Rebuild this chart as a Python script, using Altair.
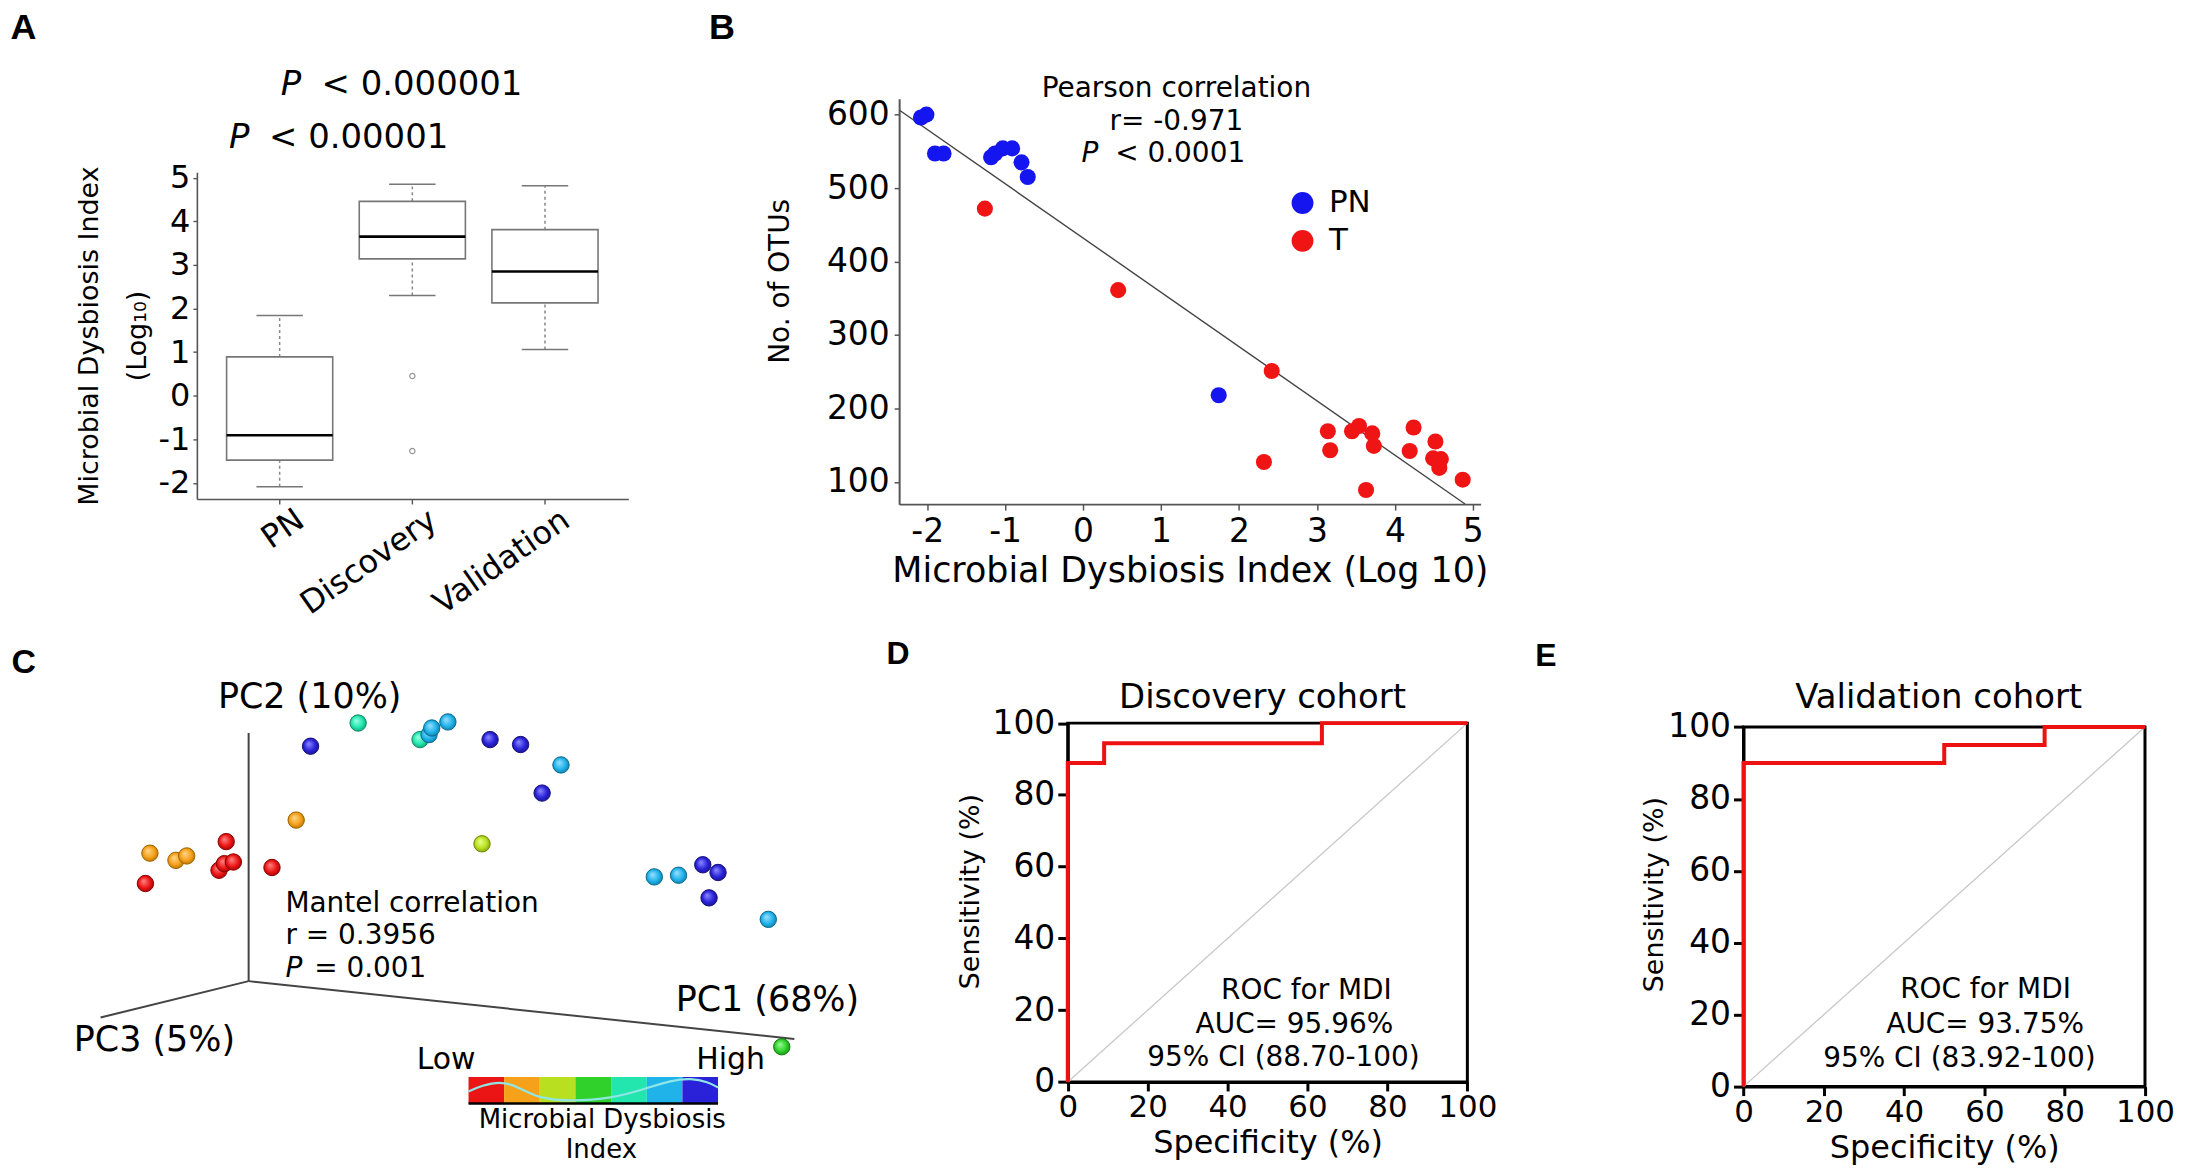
import altair as alt
import pandas as pd

FONT = "DejaVu Sans"
LETTER_FONT = "Liberation Sans Narrow, Liberation Sans"
NEG_EXPR = "datum.value < 0 ? '-' + (-datum.value) : '' + datum.value"
W, H = 2175, 1157   # one drawing surface; every panel gets its own scales mapped to a pixel range

# ---------------- Panel A : box plot ----------------
a_groups = ["PN", "Discovery", "Validation"]
a_pos = [1, 2, 3]
a_low = [-2.09, 2.30, 1.06]
a_q1 = [-1.48, 3.14, 2.13]
a_med = [-0.91, 3.65, 2.85]
a_q3 = [0.89, 4.46, 3.81]
a_high = [1.84, 4.85, 4.82]
a_out_pos = [2, 2]
a_out_val = [0.45, -1.27]
a_yticks = [-2, -1, 0, 1, 2, 3, 4, 5]

# ---------------- Panel B : scatter ----------------
b_pn_mdi = [-2.08, -2.01, -1.90, -1.79, -1.18, -1.13, -1.03, -0.91, -0.79, -0.71, 1.74]
b_pn_otu = [596, 600, 547, 547, 542, 547, 554, 554, 535, 515, 218]
b_t_mdi = [-1.26, 0.45, 2.42, 2.32, 3.14, 3.17, 3.45, 3.54, 3.71, 3.73, 3.63,
           4.24, 4.19, 4.52, 4.49, 4.59, 4.57, 4.87]
b_t_otu = [472, 361, 251, 127, 169, 143, 169, 176, 166, 149, 89,
           174, 142, 155, 132, 131, 119, 103]
b_fit_slope = -73.9
b_fit_intercept = 432.0
b_fit_x = [-2.35, 4.90]
b_xticks = [-2, -1, 0, 1, 2, 3, 4, 5]
b_yticks = [100, 200, 300, 400, 500, 600]

# ---------------- Panel C : PCoA (projected 3-D view) ----------------
c_x = [16.2, 24.4, 25.0, 26.0, 25.2, 30.3,
       16.7, 19.6, 20.8, 33.0,
       53.7,
       87.1,
       39.9, 46.8,
       47.8, 48.1, 49.9, 62.5, 72.9, 75.6, 85.6,
       34.6, 54.6, 58.0, 60.4, 78.3, 80.0, 79.0]
c_y = [52.2, 54.6, 55.8, 56.1, 59.8, 55.1,
       57.7, 56.4, 57.2, 63.7,
       59.4,
       22.6,
       81.3, 78.3,
       79.2, 80.4, 81.5, 73.7, 53.4, 53.7, 45.7,
       77.1, 78.3, 77.4, 68.6, 55.6, 54.2, 49.6]
c_level = ["L1"] * 6 + ["L2"] * 4 + ["L3"] + ["L4"] + ["L5"] * 2 + ["L6"] * 7 + ["L7"] * 7
c_levels = ["L1", "L2", "L3", "L4", "L5", "L6", "L7"]
c_fill = ["#ec1515", "#f5a11a", "#b8e021", "#2fd12a", "#22e6ad", "#1fb3ea", "#2a22d8"]
c_light = ["#ff8080", "#ffd488", "#e8ff8a", "#98f894", "#98ffe4", "#98ddff", "#8a86ff"]
c_edge = ["#8a0000", "#a06400", "#6f8a00", "#137a10", "#0d8a66", "#0a6a90", "#140f7a"]
c_axis_x = [27.7, 27.7, 27.7]
c_axis_y = [34.5, 34.5, 34.5]
c_axis_x2 = [27.7, 11.2, 88.5]
c_axis_y2 = [79.5, 27.9, 24.0]
c_bar_x0 = [52.2, 56.17, 60.14, 64.11, 68.09, 72.06, 76.03]
c_bar_x1 = [56.17, 60.14, 64.11, 68.09, 72.06, 76.03, 80.0]
c_bar_y0 = 12.3
c_bar_y1 = 17.1
c_wave_u = [52.2, 53.7, 55.7, 57.4, 60.0, 63.7, 68.1, 71.9, 74.8, 77.0, 78.9, 80.0]
c_wave_v = [14.5, 15.6, 16.3, 15.6, 13.2, 12.7, 13.2, 15.0, 16.5, 16.9, 16.2, 15.2]

# ---------------- Panels D / E : ROC ----------------
d_spec = [0, 0, 9.1, 9.1, 63.6, 63.6, 100]
d_sens = [0, 88.9, 88.9, 94.4, 94.4, 100, 100]
e_spec = [0, 0, 50, 50, 75, 75, 100]
e_sens = [0, 90, 90, 95, 95, 100, 100]
roc_ticks = [0, 20, 40, 60, 80, 100]
diag = [0, 100]

# pixel ranges of each panel's plot area on the drawing surface: (left, right, bottom, top)
A_BOX = (189.4, 622.0, 490.7, 163.0)
B_BOX = (893.6, 1476.7, 495.9, 89.4)
C_BOX = (-8.0, 892.0, 1165.0, 612.0)
D_BOX = (1062.7, 1463.4, 1075.3, 715.5)
E_BOX = (1740.3, 2142.9, 1080.0, 719.4)


def note(text, x, y, size, align="center", style="normal", weight="normal",
         font=FONT, baseline="alphabetic"):
    return alt.Chart(pd.DataFrame({"t": [text]})).mark_text(
        align=align, baseline=baseline, fontSize=size, fontStyle=style,
        fontWeight=weight, font=font, color="black"
    ).encode(x=alt.value(x), y=alt.value(y), text="t:N")


def axis_common(**kw):
    return alt.Axis(grid=False, labelFont=FONT, titleFont=FONT, labelColor="black",
                    titleColor="black", titleFontWeight="normal", labelFlush=False,
                    labelOverlap=False, **kw)


# ======================= Panel A =======================
box_df = pd.DataFrame({"group": a_groups, "pos": a_pos, "low": a_low, "q1": a_q1,
                       "med": a_med, "q3": a_q3, "high": a_high})
out_df = pd.DataFrame({"pos": a_out_pos, "val": a_out_val})
parts = [f"datum.value == {p} ? '{g}'" for p, g in zip(a_pos[:-1], a_groups[:-1])]
a_label_expr = " : ".join(parts) + f" : '{a_groups[-1]}'"

a_xscale = alt.Scale(domain=[0.376, 3.628], range=[A_BOX[0], A_BOX[1]], nice=False, zero=False)
a_yscale = alt.Scale(domain=[-2.37, 5.13], range=[A_BOX[2], A_BOX[3]], nice=False, zero=False)
a_xaxis = axis_common(orient="bottom", offset=A_BOX[2] - H, values=a_pos,
                      labelExpr=a_label_expr, labelAngle=-35, labelAlign="right",
                      labelBaseline="top", labelFontSize=32, labelPadding=0, labelOffset=12,
                      tickSize=5, title=None, domainColor="#555", tickColor="#555",
                      domainWidth=1.6, tickWidth=1.4)
a_yaxis = axis_common(orient="left", offset=-A_BOX[0], values=a_yticks, labelExpr=NEG_EXPR,
                      labelFontSize=32, labelPadding=3, tickSize=4,
                      title=["Microbial Dysbiosis Index", "(Log\u2081\u2080)"],
                      titleFontSize=27, titleLineHeight=48, titlePadding=7,
                      domainColor="#555", tickColor="#555", domainWidth=1.6, tickWidth=1.4)


def ax(f):
    return alt.X(f, type="quantitative", scale=a_xscale, axis=a_xaxis)


def ay(f):
    return alt.Y(f, type="quantitative", scale=a_yscale, axis=a_yaxis)


a_base = alt.Chart(box_df)
a_calc = a_base.transform_calculate(bl="datum.pos - 0.4", br="datum.pos + 0.4",
                                    cl="datum.pos - 0.175", cr="datum.pos + 0.175")
A = alt.layer(
    a_base.mark_rule(color="#888", strokeDash=[3, 3], strokeWidth=1.5).encode(
        x=ax("pos"), y=ay("q3"), y2="high:Q"),
    a_base.mark_rule(color="#888", strokeDash=[3, 3], strokeWidth=1.5).encode(
        x=ax("pos"), y=ay("low"), y2="q1:Q"),
    a_calc.mark_rule(color="#777", strokeWidth=1.5).encode(x=ax("cl"), x2="cr:Q", y=ay("high")),
    a_calc.mark_rule(color="#777", strokeWidth=1.5).encode(x=ax("cl"), x2="cr:Q", y=ay("low")),
    a_calc.mark_rect(fill="white", stroke="#777", strokeWidth=1.6).encode(
        x=ax("bl"), x2="br:Q", y=ay("q1"), y2="q3:Q"),
    a_calc.mark_rule(color="black", strokeWidth=2.6).encode(x=ax("bl"), x2="br:Q", y=ay("med")),
    alt.Chart(out_df).mark_point(shape="circle", size=28, color="#666", strokeWidth=1.2,
                                 filled=False).encode(x=ax("pos"), y=ay("val")),
    note("P", 273.4, 85.4, 34, align="left", style="italic"),
    note("< 0.000001", 314.4, 85.4, 34, align="left"),
    note("P", 221.7, 139, 34, align="left", style="italic"),
    note("< 0.00001", 261.7, 139, 34, align="left"),
    note("A", 2.4, 29.8, 36, align="left", weight="bold", font="Liberation Sans"),
)

# ======================= Panel B =======================
b_df = pd.DataFrame({
    "mdi": b_pn_mdi + b_t_mdi,
    "otu": b_pn_otu + b_t_otu,
    "grp": ["PN"] * len(b_pn_mdi) + ["T"] * len(b_t_mdi),
})
fit_df = pd.DataFrame({"mdi": b_fit_x})
b_xscale = alt.Scale(domain=[-2.36, 5.1], range=[B_BOX[0], B_BOX[1]], nice=False, zero=False)
b_yscale = alt.Scale(domain=[69.7, 621.6], range=[B_BOX[2], B_BOX[3]], nice=False, zero=False)
b_xaxis = axis_common(orient="bottom", offset=B_BOX[2] - H, values=b_xticks, labelExpr=NEG_EXPR,
                      labelFontSize=33, labelPadding=5, tickSize=6,
                      title="Microbial Dysbiosis Index (Log 10)", titleFontSize=35,
                      titlePadding=6, domainColor="#555", tickColor="#555", domainWidth=2,
                      tickWidth=1.5)
b_yaxis = axis_common(orient="left", offset=-B_BOX[0], values=b_yticks, labelFontSize=33,
                      labelPadding=5, tickSize=5, title="No. of OTUs", titleFontSize=28,
                      titlePadding=32, titleY=272, domainColor="#555", tickColor="#555",
                      domainWidth=2, tickWidth=1.5)
bx = alt.X("mdi:Q", scale=b_xscale, axis=b_xaxis)
by = alt.Y("otu:Q", scale=b_yscale, axis=b_yaxis)

b_fit = alt.Chart(fit_df).transform_calculate(
    otu=f"{b_fit_intercept} + ({b_fit_slope}) * datum.mdi"
).mark_line(color="#444", strokeWidth=1.4).encode(x=bx, y=by)
b_pts = alt.Chart(b_df).mark_circle(size=260, opacity=1).encode(
    x=bx, y=by,
    color=alt.Color("grp:N", scale=alt.Scale(domain=["PN", "T"], range=["#1515f0", "#f01515"]),
                    legend=alt.Legend(orient="none", legendX=1282.6, legendY=178.4, title=None,
                                      symbolType="circle", symbolSize=480, labelFontSize=31,
                                      labelFont=FONT, labelColor="black",
                                      labelOffset=11, rowPadding=6, padding=0,
                                      symbolStrokeWidth=0, symbolOpacity=1)),
)
B = alt.layer(
    b_fit, b_pts,
    note("Pearson correlation", 1171.6, 87.4, 28),
    note("r= -0.971", 1171.6, 120.4, 28),
    note("P", 1076.4, 152.9, 28, align="left", style="italic"),
    note("< 0.0001", 1110.3, 152.9, 28, align="left"),
    note("B", 702.9, 29.8, 36, align="left", weight="bold", font="Liberation Sans"),
)

# ======================= Panel C =======================
c_xs = alt.Scale(domain=[0, 100], range=[C_BOX[0], C_BOX[1]], nice=False, zero=False)
c_ys = alt.Scale(domain=[0, 100], range=[C_BOX[2], C_BOX[3]], nice=False, zero=False)


def cx(f):
    return alt.X(f, type="quantitative", scale=c_xs, axis=None)


def cy(f):
    return alt.Y(f, type="quantitative", scale=c_ys, axis=None)


def cnote(text, u, v, size, align="center", style="normal"):
    return alt.Chart(pd.DataFrame({"t": [text], "u": [u], "v": [v]})).mark_text(
        align=align, baseline="alphabetic", fontSize=size, fontStyle=style, font=FONT,
        color="black").encode(x=cx("u"), y=cy("v"), text="t:N")


c_axes = pd.DataFrame({"x": c_axis_x, "y": c_axis_y, "x2": c_axis_x2, "y2": c_axis_y2})
c_pts = pd.DataFrame({"x": c_x, "y": c_y, "lvl": c_level})
c_bar = pd.DataFrame({"x0": c_bar_x0, "x1": c_bar_x1, "lvl": c_levels,
                      "y0": [c_bar_y0] * 7, "y1": [c_bar_y1] * 7})
c_wave = pd.DataFrame({"u": c_wave_u, "v": c_wave_v})
c_under = pd.DataFrame({"x0": [c_bar_x0[0]], "x1": [c_bar_x1[-1]], "y0": [c_bar_y0]})
c_color = alt.Scale(domain=c_levels, range=c_fill)

# shaded spheres: one layer per colour level, each with a radial gradient fill
c_sphere_layers = []
for lvl, base_col, light_col, edge_col in zip(c_levels, c_fill, c_light, c_edge):
    grad = alt.Gradient(
        gradient="radial",
        stops=[alt.GradientStop(color=light_col, offset=0),
               alt.GradientStop(color=base_col, offset=0.55),
               alt.GradientStop(color=edge_col, offset=1)],
        x1=0.38, y1=0.35, r1=0.02, x2=0.5, y2=0.5, r2=0.62,
    )
    c_sphere_layers.append(
        alt.Chart(c_pts).transform_filter(alt.datum.lvl == lvl).mark_circle(
            size=270, opacity=1, fill=grad, stroke=edge_col, strokeWidth=1.0
        ).encode(x=cx("x"), y=cy("y"))
    )

C = alt.layer(
    alt.Chart(c_axes).mark_rule(color="#444", strokeWidth=2).encode(
        x=cx("x"), y=cy("y"), x2="x2:Q", y2="y2:Q"),
    *c_sphere_layers,
    alt.Chart(c_bar).mark_rect(strokeWidth=0).encode(
        x=cx("x0"), x2="x1:Q", y=cy("y0"), y2="y1:Q",
        color=alt.Color("lvl:N", scale=c_color, legend=None)),
    alt.Chart(c_wave).mark_line(interpolate="basis", color="#8fe6e6", strokeWidth=2.2).encode(
        x=cx("u"), y=cy("v")),
    alt.Chart(c_under).mark_rule(color="black", strokeWidth=2.5).encode(
        x=cx("x0"), x2="x1:Q", y=cy("y0")),
    cnote("PC2 (10%)", 34.5, 84.0, 35),
    cnote("PC3 (5%)", 17.2, 21.8, 35),
    cnote("PC1 (68%)", 85.5, 29.0, 35),
    cnote("Mantel correlation", 31.8, 47.1, 28, align="left"),
    cnote("r = 0.3956", 31.8, 41.2, 28, align="left"),
    cnote("P", 31.8, 35.3, 28, align="left", style="italic"),
    cnote("= 0.001", 35.0, 35.3, 28, align="left"),
    cnote("Low", 49.7, 18.5, 30),
    cnote("High", 81.4, 18.5, 30),
    cnote("Microbial Dysbiosis", 67.1, 7.9, 26),
    cnote("Index", 67.0, 2.35, 26),
    note("C", 3.5, 665, 34, align="left", weight="bold", font=LETTER_FONT),
)


# ======================= Panels D / E =======================
def roc_panel(spec, sens, box, title, lines, title_pos, letter, letter_pos, ytitle_pad, ytitle_y):
    xs = alt.Scale(domain=[0, 100], range=[box[0], box[1]], nice=False, zero=False)
    ys = alt.Scale(domain=[0, 100], range=[box[2], box[3]], nice=False, zero=False)
    xaxis = axis_common(orient="bottom", offset=box[2] - H, values=roc_ticks, labelFontSize=31,
                        labelPadding=2, tickSize=9, tickWidth=3, domainWidth=3,
                        domainColor="black", tickColor="black",
                        title="Specificity (%)", titleFontSize=32, titlePadding=5)
    yaxis = axis_common(orient="left", offset=-box[0], values=roc_ticks, labelFontSize=33,
                        labelPadding=3, tickSize=10, tickWidth=3, domainWidth=3,
                        domainColor="black", tickColor="black",
                        title="Sensitivity (%)", titleFontSize=27, titlePadding=ytitle_pad,
                        titleY=ytitle_y)
    rx = alt.X("spec:Q", scale=xs, axis=xaxis)
    ry = alt.Y("sens:Q", scale=ys, axis=yaxis)
    roc_df = pd.DataFrame({"spec": spec, "sens": sens, "i": list(range(len(spec)))})
    diag_df = pd.DataFrame({"spec": diag, "sens": diag})
    frame_df = pd.DataFrame({"spec": [roc_ticks[0]], "spec2": [roc_ticks[-1]],
                             "sens": [roc_ticks[0]], "sens2": [roc_ticks[-1]]})
    layers = [
        alt.Chart(frame_df).mark_rect(fillOpacity=0, stroke="black", strokeWidth=3).encode(
            x=rx, x2="spec2:Q", y=ry, y2="sens2:Q"),
        alt.Chart(diag_df).mark_line(color="#c8c8c8", strokeWidth=1.3).encode(x=rx, y=ry),
        alt.Chart(roc_df).mark_line(color="#ee1111", strokeWidth=4).encode(
            x=rx, y=ry, order="i:Q"),
        note(title, title_pos[0], title_pos[1], 34),
    ]
    for txt, px, py in lines:
        layers.append(note(txt, px, py, 28))
    layers.append(note(letter, letter_pos[0], letter_pos[1], 32, align="left",
                       weight="bold", font=LETTER_FONT))
    return alt.layer(*layers)


D = roc_panel(d_spec, d_sens, D_BOX, "Discovery cohort",
              [("ROC for MDI", 1302.0, 992.5), ("AUC= 95.96%", 1290.0, 1026.5),
               ("95% CI (88.70-100)", 1279.0, 1059.5)],
              (1258.0, 700.5), "D", (881.0, 656.0), 7.5, 884)
E = roc_panel(e_spec, e_sens, E_BOX, "Validation cohort",
              [("ROC for MDI", 1983.0, 991.4), ("AUC= 93.75%", 1982.6, 1026.0),
               ("95% CI (83.92-100)", 1956.8, 1060.4)],
              (1936.0, 700.6), "E", (1531.6, 658.0), -0.5, 887)

chart = alt.layer(A, B, C, D, E).resolve_scale(
    x="independent", y="independent", color="independent"
).resolve_axis(x="independent", y="independent").properties(
    width=W, height=H, padding=0, autosize=alt.AutoSizeParams(type="none")
).configure_view(strokeWidth=0)

chart.save("out.html", embed_options={"renderer": "svg", "actions": False})
